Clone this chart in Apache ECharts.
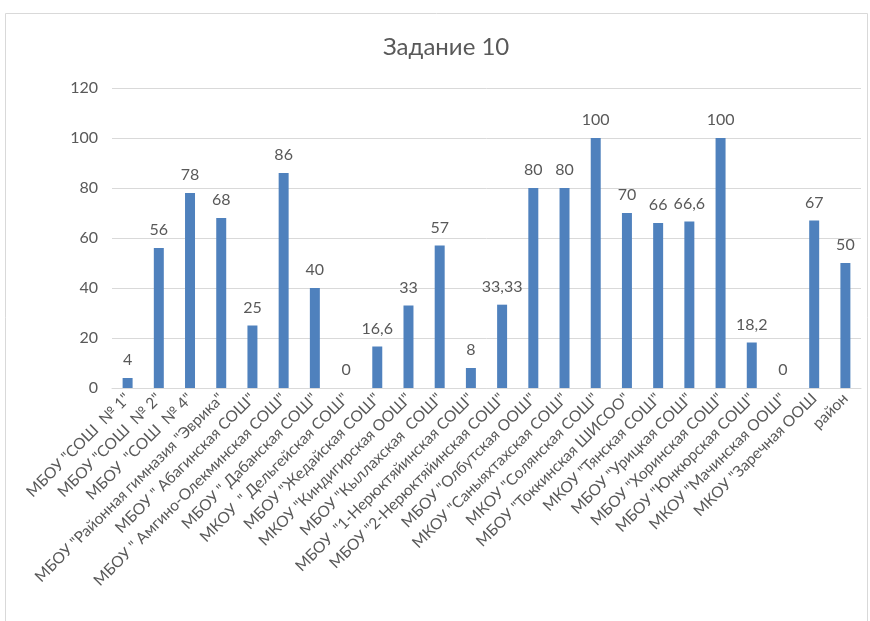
<!DOCTYPE html>
<html><head><meta charset="utf-8">
<script src="https://cdn.jsdelivr.net/npm/echarts@6/dist/echarts.min.js"></script>
<style>html,body{margin:0;padding:0;background:#fff}#c{width:870px;height:621px}</style>
</head><body><div id="c"></div>
<script>
const title = 'Задание 10';
const categories = [
  'МБОУ "СОШ  № 1"',
  'МБОУ "СОШ  № 2"',
  'МБОУ  "СОШ  № 4"',
  'МБОУ "Районная гимназия "Эврика"',
  'МБОУ " Абагинская СОШ"',
  'МБОУ " Амгино-Олекминская СОШ"',
  'МБОУ " Дабанская СОШ"',
  'МКОУ  " Дельгейская СОШ"',
  'МБОУ "Жедайская СОШ"',
  'МКОУ "Киндигирская ООШ"',
  'МБОУ "Кыллахская  СОШ"',
  'МБОУ  "1-Нерюктяйинская СОШ"',
  'МБОУ "2-Нерюктяйинская СОШ"',
  'МБОУ "Олбутская ООШ"',
  'МКОУ "Саныяхтахская СОШ"',
  'МКОУ "Солянская СОШ"',
  'МБОУ "Токкинская ШИСОО"',
  'МКОУ "Тянская СОШ"',
  'МБОУ "Урицкая СОШ"',
  'МБОУ "Хоринская СОШ"',
  'МБОУ "Юнкюрская СОШ"',
  'МКОУ "Мачинская ООШ"',
  'МКОУ "Заречная ООШ',
  'район'
];
const values = [4, 56, 78, 68, 25, 86, 40, 0, 16.6, 33, 57, 8, 33.33, 80, 80, 100, 70, 66, 66.6, 100, 18.2, 0, 67, 50];
const yTicks = [0, 20, 40, 60, 80, 100, 120];

const chart = echarts.init(document.getElementById('c'));
const font = 'Lato, "Open Sans", sans-serif';
chart.setOption({
  animation: false,
  textStyle: {fontFamily: font},
  graphic: [{type: 'rect', shape: {x: 5.5, y: 13.5, width: 862, height: 640}, style: {fill: 'none', stroke: '#d9d9d9', lineWidth: 1}, silent: true}],
  title: {text: title, left: 378, top: 30, textStyle: {fontFamily: font, fontSize: 24, fontWeight: 'normal', color: '#595959'}},
  grid: {left: 112, right: 9, top: 88, bottom: 233, containLabel: false},
  xAxis: {
    type: 'category', data: categories,
    axisLine: {lineStyle: {color: '#d9d9d9'}},
    axisTick: {show: false},
    axisLabel: {rotate: 45, interval: 0, color: '#595959', fontSize: 15.5, fontFamily: font, margin: 8}
  },
  yAxis: {
    type: 'value', min: yTicks[0], max: yTicks[yTicks.length - 1], interval: 20,
    axisLine: {show: false}, axisTick: {show: false},
    splitLine: {lineStyle: {color: '#d9d9d9'}},
    axisLabel: {color: '#595959', fontSize: 16, fontFamily: font, margin: 14}
  },
  series: [{
    type: 'bar', data: values, barWidth: '32%',
    itemStyle: {color: '#4f81bd'},
    label: {show: true, position: 'top', distance: 10, color: '#595959', fontSize: 16, fontFamily: font,
      formatter: p => String(p.value).replace('.', ',')}
  }]
});
</script></body></html>
